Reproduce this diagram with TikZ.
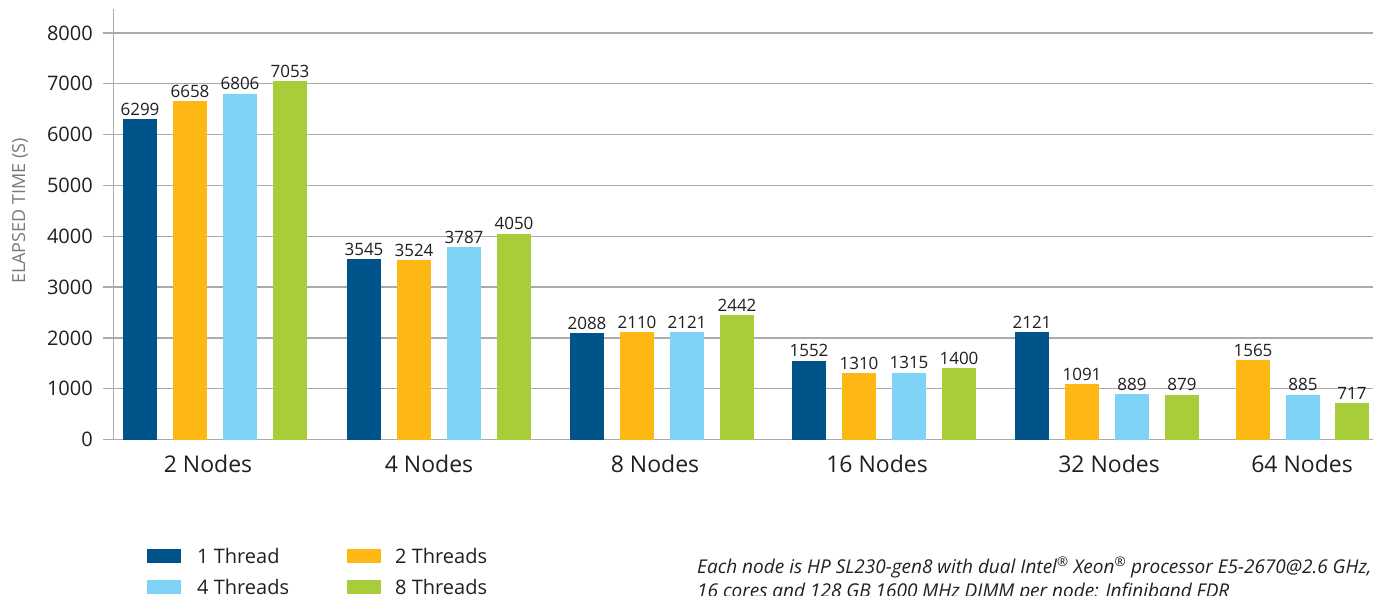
\documentclass[tikz,border=0pt]{standalone}
\usepackage{fontspec}
\setmainfont{Open Sans}
\definecolor{cdark}{HTML}{00548A}
\definecolor{corange}{HTML}{FDB813}
\definecolor{clight}{HTML}{7FD3F7}
\definecolor{cgreen}{HTML}{A7CE3A}
\definecolor{cgrid}{HTML}{ABABAB}
\definecolor{ctxt}{HTML}{231F20}
\definecolor{cylab}{HTML}{7A7A7A}
\begin{document}
\begin{tikzpicture}[x=1pt,y=-1pt,
  gridline/.style={draw=cgrid,line width=1.3pt},
  ticklab/.style={anchor=east,text=ctxt,font=\fontsize{20}{24}\selectfont,inner sep=0pt},
  barlab/.style={anchor=south,text=ctxt,font=\fontsize{17}{20}\selectfont,inner sep=0pt},
  grouplab/.style={anchor=center,text=ctxt,font=\fontsize{23}{27}\selectfont,inner sep=0pt},
  leglab/.style={anchor=west,text=ctxt,font=\fontsize{20}{24}\selectfont,inner sep=0pt},
  footlab/.style={anchor=base west,text=ctxt,font=\fontsize{19}{23}\selectfont\itshape,inner sep=0pt}]
\useasboundingbox (0,0) rectangle (1373,596);
\fill[white] (0,0) rectangle (1373,596);
% gridlines and tick labels
\foreach \v [count=\i] in {0,1000,...,8000}{
  \pgfmathsetmacro{\yy}{439.5-\v*0.0508125}
  \draw[gridline] (103,\yy) -- (1373,\yy);
  \node[ticklab] (tick\i) at (93,\yy) {\v};
}
\draw[gridline] (113.5,9) -- (113.5,440);
\node[rotate=90,text=cylab,font=\fontsize{18}{22}\selectfont,inner sep=0pt] (ylab) at (20,211) {ELAPSED TIME (S)};
% bars
\foreach \gx/\a/\b/\c/\d [count=\g] in {123/6299/6658/6806/7053, 347/3545/3524/3787/4050, 570/2088/2110/2121/2442, 792/1552/1310/1315/1400, 1015/2121/1091/889/879}{
  \foreach \val/\off/\col [count=\k] in {\a/0/cdark, \b/50/corange, \c/100/clight, \d/150/cgreen}{
    \pgfmathsetmacro{\yt}{439.5-\val*0.0508125}
    \pgfmathsetmacro{\xl}{\gx+\off}
    \fill[\col] (\xl,439.5) rectangle (\xl+34,\yt);
    \node[barlab] (lab\g-\k) at (\xl+17,\yt-3.5) {\val};
  }
}
\foreach \val/\xl/\col [count=\k] in {1565/1236/corange, 885/1286/clight, 717/1335/cgreen}{
  \pgfmathsetmacro{\yt}{439.5-\val*0.0508125}
  \fill[\col] (\xl,439.5) rectangle (\xl+34,\yt);
  \node[barlab] (lab6-\k) at (\xl+17,\yt-3.5) {\val};
}
% group labels
\node[grouplab] (g1) at (208,464) {2 Nodes};
\node[grouplab] (g2) at (429,464) {4 Nodes};
\node[grouplab] (g3) at (655,464) {8 Nodes};
\node[grouplab] (g4) at (877,464) {16 Nodes};
\node[grouplab] (g5) at (1109,464) {32 Nodes};
\node[grouplab] (g6) at (1302,464) {64 Nodes};
% legend
\fill[cdark] (147,549) rectangle (181,563);
\node[leglab] (l1) at (197,556) {1 Thread};
\fill[corange] (347,549) rectangle (381,563);
\node[leglab] (l2) at (395,556) {2 Threads};
\fill[clight] (147,580) rectangle (181,594);
\node[leglab] (l3) at (197,586.5) {4 Threads};
\fill[cgreen] (347,580) rectangle (381,594);
\node[leglab] (l4) at (395,586.5) {8 Threads};
% footnote
\node[footlab] (f1) at (697,573) {Each node is HP SL230-gen8 with dual Intel\textsuperscript{®} Xeon\textsuperscript{®} processor E5-2670@2.6 GHz,};
\node[footlab] (f2) at (697,597) {16 cores and 128 GB 1600 MHz DIMM per node: Infiniband FDR};
\end{tikzpicture}
\end{document}
